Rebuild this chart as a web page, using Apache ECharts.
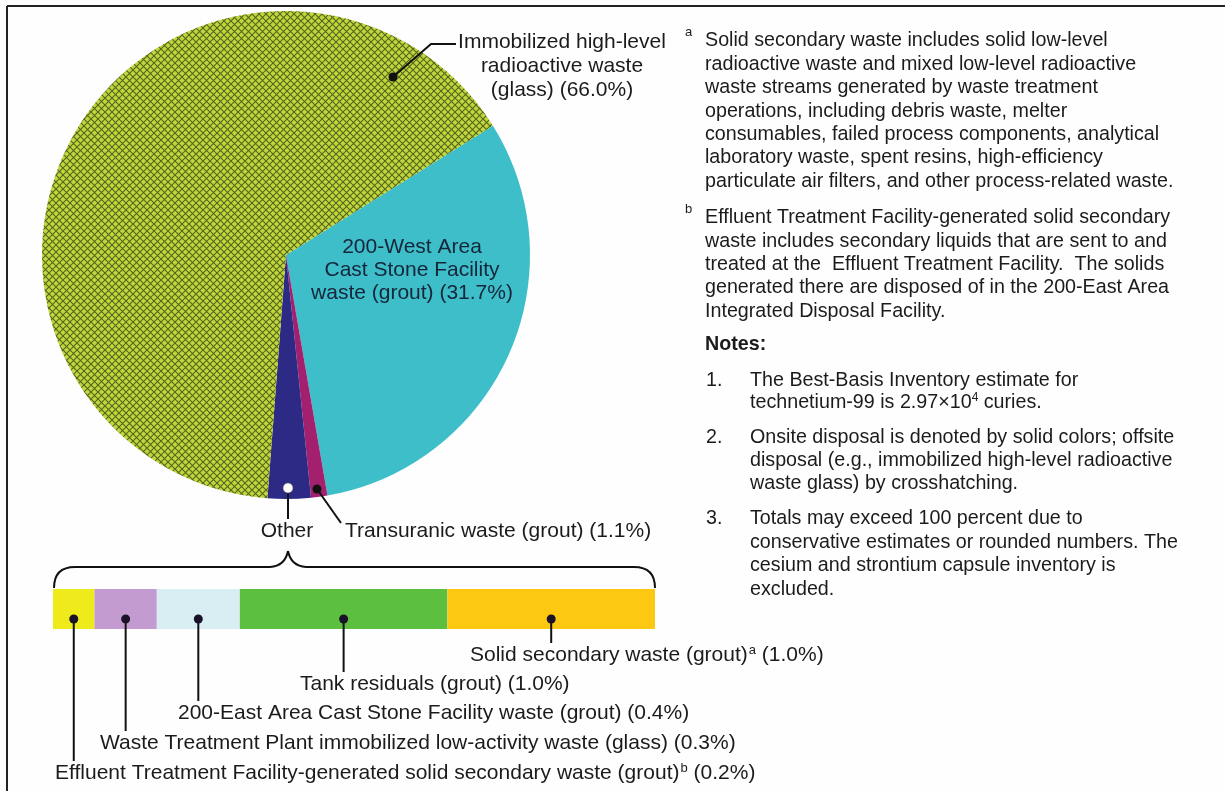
<!DOCTYPE html>
<html><head><meta charset="utf-8">
<script src="https://cdn.jsdelivr.net/npm/echarts@6/dist/echarts.min.js"></script>
<style>html,body{margin:0;padding:0;background:#fefefe}#c{width:1225px;height:791px}</style>
</head><body><div id="c"></div>
<script>
// ---------------- data ----------------
const pieLabels = ['200-West Area\nCast Stone Facility\nwaste (grout)', 'Transuranic waste (grout)', 'Other', 'Immobilized high-level\nradioactive waste\n(glass)'];
const pieValues = [31.7, 1.1, 2.9, 66.0];
const otherNames = ['Effluent Treatment Facility-generated solid secondary waste (grout)', 'Waste Treatment Plant immobilized low-activity waste (glass)', '200-East Area Cast Stone Facility waste (grout)', 'Tank residuals (grout)', 'Solid secondary waste (grout)'];
const otherValues = [0.2, 0.3, 0.4, 1.0, 1.0];
const otherNotes = ['b', '', '', '', 'a'];

// ---------------- styles / layout ----------------
const FONT = '"Liberation Sans", Arial, Helvetica, sans-serif';
const TXT = '#1b1b1b';
const NOTE = '19.7px ' + FONT;

function hatch() {
  const c = document.createElement('canvas');
  c.width = 7; c.height = 7;
  const g = c.getContext('2d');
  g.fillStyle = '#bfd73a'; g.fillRect(0, 0, 7, 7);
  g.strokeStyle = '#56641f'; g.lineWidth = 1.1;
  g.beginPath(); g.moveTo(0, 0); g.lineTo(7, 7); g.moveTo(7, 0); g.lineTo(0, 7); g.stroke();
  return c;
}
const pieColors = ['#3dbec8', '#a3206f', '#2d2a86', { image: hatch(), repeat: 'repeat' }];
const barColors = ['#efea1b', '#c39bd1', '#d9eef2', '#5dbf3f', '#fdc811'];

const pieLayout = [
  { x: 412, y: 270, align: 'center', verticalAlign: 'middle' },
  { x: 345, y: 531, align: 'left', verticalAlign: 'middle' },
  { x: 287, y: 531, align: 'center', verticalAlign: 'middle' },
  { x: 562, y: 30, align: 'center', verticalAlign: 'top' }
];
const barLabelX = [55, 100, 178, 300, 470];
const barLabelY = [773, 743, 713, 684, 655];

const total = otherValues.reduce((a, b) => a + b, 0);
const centers = [];
let cum = 0;
otherValues.forEach(v => { centers.push([cum + v / 2, 'Other']); cum += v; });

const chart = echarts.init(document.getElementById('c'), null, { renderer: 'canvas' });

const ls = { stroke: '#111', lineWidth: 2, fill: null };
const option = {
  animation: false,
  backgroundColor: '#fefefe',
  grid: { left: 53, top: 589, width: 602, height: 40 },
  xAxis: { type: 'value', min: 0, max: total, show: false },
  yAxis: { type: 'category', data: ['Other'], show: false },
  series: [
    {
      type: 'pie', center: [286, 255], radius: 244, startAngle: 32, clockwise: true, silent: true,
      avoidLabelOverlap: false,
      data: pieValues.map((v, i) => ({
        name: pieLabels[i], value: v,
        itemStyle: { color: pieColors[i] },
        label: i === 0 ? { color: '#15253a', lineHeight: 23 } : {}
      })),
      label: {
        show: true, position: 'outside', color: TXT, fontSize: 21, fontFamily: FONT, lineHeight: 24,
        formatter: p => p.dataIndex === 2 ? p.name : p.name + ' (' + p.value.toFixed(1) + '%)'
      },
      labelLine: { show: false },
      labelLayout: p => pieLayout[p.dataIndex]
    }
  ].concat(otherValues.map((v, i) => ({
    type: 'bar', stack: 'other', name: otherNames[i], barWidth: '100%', silent: true,
    data: [v], itemStyle: { color: barColors[i] },
    label: {
      show: true, position: 'bottom', color: TXT, fontSize: 21, fontFamily: FONT,
      formatter: p => p.seriesName + (otherNotes[i] ? '{s|' + otherNotes[i] + '}' : '') + ' (' + p.value.toFixed(1) + '%)',
      rich: { s: { fontSize: 13, fontFamily: FONT, color: TXT, padding: [0, 0, 10, 1] } }
    },
    labelLayout: () => ({ x: barLabelX[i], y: barLabelY[i], align: 'left', verticalAlign: 'middle' })
  }))).concat([{
    type: 'custom', data: centers, silent: true, z: 5,
    renderItem: (params, api) => {
      const p = api.coord([api.value(0), api.value(1)]);
      const y0 = p[1] + 10;
      const y1 = barLabelY[params.dataIndex] - 12;
      return { type: 'group', children: [
        { type: 'line', shape: { x1: p[0], y1: y0, x2: p[0], y2: y1 }, style: { stroke: '#111', lineWidth: 2 } },
        { type: 'circle', shape: { cx: p[0], cy: y0, r: 4.5 }, style: { fill: '#1a1228' } }
      ] };
    }
  }]),
  graphic: [
    { type: 'line', shape: { x1: 7, y1: 6, x2: 1225, y2: 6 }, style: { stroke: '#222', lineWidth: 2 } },
    { type: 'line', shape: { x1: 7, y1: 6, x2: 7, y2: 791 }, style: { stroke: '#222', lineWidth: 2 } },
    // pie leader lines and dots
    { type: 'polyline', shape: { points: [[393, 77], [431, 44], [456, 44]] }, style: ls, z: 100 },
    { type: 'polyline', shape: { points: [[317, 489], [341, 523]] }, style: ls, z: 100 },
    { type: 'polyline', shape: { points: [[288, 489], [288, 519]] }, style: ls, z: 100 },
    { type: 'circle', shape: { cx: 393, cy: 77, r: 4.5 }, style: { fill: '#111' }, z: 101 },
    { type: 'circle', shape: { cx: 317, cy: 489, r: 4.5 }, style: { fill: '#111' }, z: 101 },
    { type: 'circle', shape: { cx: 288, cy: 488, r: 5 }, style: { fill: '#fff', stroke: '#555', lineWidth: 0.5 }, z: 101 },
    // brace
    { type: 'bezierCurve', shape: { x1: 54, y1: 588, x2: 75, y2: 567, cpx1: 54, cpy1: 567 }, style: ls },
    { type: 'line', shape: { x1: 75, y1: 567, x2: 270, y2: 567 }, style: ls },
    { type: 'bezierCurve', shape: { x1: 270, y1: 567, x2: 288, y2: 551, cpx1: 285, cpy1: 566 }, style: ls },
    { type: 'bezierCurve', shape: { x1: 288, y1: 551, x2: 306, y2: 567, cpx1: 291, cpy1: 566 }, style: ls },
    { type: 'line', shape: { x1: 306, y1: 567, x2: 634, y2: 567 }, style: ls },
    { type: 'bezierCurve', shape: { x1: 634, y1: 567, x2: 655, y2: 588, cpx1: 655, cpy1: 567 }, style: ls },
    // footnotes
    { type: 'text', x: 685, y: 26, style: { text: 'a', font: '13px ' + FONT, fill: TXT } },
    { type: 'text', x: 705, y: 29.3, style: { text: 'Solid secondary waste includes solid low-level\nradioactive waste and mixed low-level radioactive\nwaste streams generated by waste treatment\noperations, including debris waste, melter\nconsumables, failed process components, analytical\nlaboratory waste, spent resins, high-efficiency\nparticulate air filters, and other process-related waste.', font: NOTE, fill: TXT, lineHeight: 23.4 } },
    { type: 'text', x: 685, y: 203, style: { text: 'b', font: '13px ' + FONT, fill: TXT } },
    { type: 'text', x: 705, y: 206.3, style: { text: 'Effluent Treatment Facility-generated solid secondary\nwaste includes secondary liquids that are sent to and\ntreated at the  Effluent Treatment Facility.  The solids\ngenerated there are disposed of in the 200-East Area\nIntegrated Disposal Facility.', font: NOTE, fill: TXT, lineHeight: 23.3 } },
    { type: 'text', x: 705, y: 333.3, style: { text: 'Notes:', font: 'bold ' + NOTE, fill: TXT, lineHeight: 23.4 } },
    { type: 'text', x: 706, y: 369.3, style: { text: '1.', font: NOTE, fill: TXT, lineHeight: 23.4 } },
    { type: 'text', x: 750, y: 369.3, style: { text: 'The Best-Basis Inventory estimate for\ntechnetium-99 is 2.97×10{s|4} curies.', font: NOTE, fill: TXT, lineHeight: 22,
      rich: { s: { fontSize: 12, fontFamily: FONT, fill: TXT, lineHeight: 22, padding: [0, 0, 10, 0] } } } },
    { type: 'text', x: 706, y: 426.5, style: { text: '2.', font: NOTE, fill: TXT, lineHeight: 23 } },
    { type: 'text', x: 750, y: 426.5, style: { text: 'Onsite disposal is denoted by solid colors; offsite\ndisposal (e.g., immobilized high-level radioactive\nwaste glass) by crosshatching.', font: NOTE, fill: TXT, lineHeight: 23 } },
    { type: 'text', x: 706, y: 507.3, style: { text: '3.', font: NOTE, fill: TXT, lineHeight: 23.4 } },
    { type: 'text', x: 750, y: 507.3, style: { text: 'Totals may exceed 100 percent due to\nconservative estimates or rounded numbers. The\ncesium and strontium capsule inventory is\nexcluded.', font: NOTE, fill: TXT, lineHeight: 23.4 } }
  ]
};
chart.setOption(option);
</script>
</body></html>
